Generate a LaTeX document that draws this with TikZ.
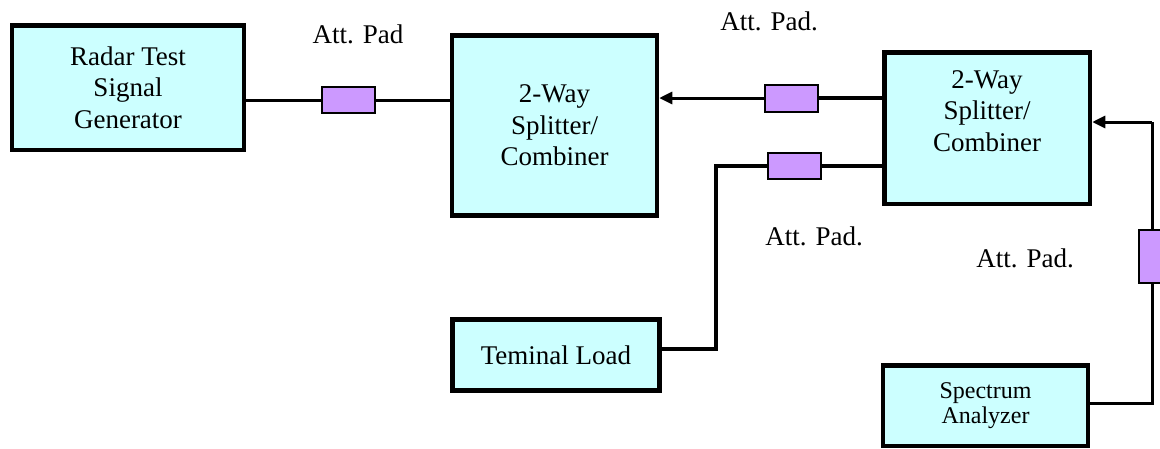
\documentclass[tikz,border=0pt]{standalone}
\usepackage{fontspec}
\setmainfont{Liberation Serif}
\newfontfamily\diagfont{Liberation Serif}
\usetikzlibrary{arrows.meta,calc}
\definecolor{boxfill}{HTML}{CCFFFF}
\definecolor{padfill}{HTML}{CC99FF}
\tikzset{
  blockbox/.style={draw=black,fill=boxfill,line width=4.5pt,inner sep=0pt,align=center,font=\diagfont\fontsize{27}{31.5}\selectfont},
  padbox/.style={draw=black,fill=padfill,line width=2.2pt,inner sep=0pt},
  wire/.style={draw=black,line width=3pt},
  thickwire/.style={draw=black,line width=4pt},
  lbl/.style={anchor=base,inner sep=0pt,font=\diagfont\fontsize{27}{31.5}\selectfont},
  tip/.style={-{Triangle[length=13pt,width=12pt]}}
}
\begin{document}
\begin{tikzpicture}[x=1pt,y=-1pt]
\useasboundingbox (0,0) rectangle (1160,448);
% blocks
\node[blockbox,minimum width=232pt,minimum height=124.5pt] (radar) at (128,87.75) {Radar Test\\Signal\\Generator};
\node[blockbox,minimum width=205pt,minimum height=180pt] (split1) at (554.5,125.5) {2-Way\\Splitter/\\Combiner};
\node[blockbox,minimum width=205.5pt,minimum height=151.5pt] (split2) at (987.25,128.25) {};
\node[lbl,anchor=center,align=center] (split2txt) at (987,111) {2-Way\\Splitter/\\Combiner};
\node[blockbox,minimum width=207pt,minimum height=71pt] (term) at (556,355) {Teminal Load};
\node[blockbox,minimum width=205pt,minimum height=80.5pt,font=\diagfont\fontsize{24}{25}\selectfont] (spec) at (985.5,405.75) {Spectrum\\Analyzer};
% coordinates
\coordinate (t1) at (716,166);
\coordinate (t2) at (716,349);
\coordinate (s1) at (1152,403);
\coordinate (s2) at (1152,122);
% wires
\draw[wire] (radar.east |- 0,100) -- (split1.west |- 0,100);
\draw[thickwire] (split2.west |- 0,98) -- (791.5,98);
\draw[wire,tip] (791.5,98) -- (split1.east |- 0,98);
\draw[thickwire] (split2.west |- t1) -- (t1) -- (t2) -- (term.east |- t2);
\draw[wire] (spec.east |- s1) -- (s1) -- (s2);
\draw[wire,tip] (s2) -- (split2.east |- s2);
% pads
\node[padbox,minimum width=53pt,minimum height=26pt] (pad1) at (348.5,100) {};
\node[padbox,minimum width=53pt,minimum height=27pt] (pad2) at (791.5,98.5) {};
\node[padbox,minimum width=53pt,minimum height=26pt] (pad3) at (794.5,166) {};
\node[padbox,minimum width=26pt,minimum height=53pt] (pad4) at (1152,256.5) {};
% labels
\node[lbl] (l1) at (358,43) {Att. Pad};
\node[lbl] (l2) at (769,30) {Att. Pad.};
\node[lbl] (l3) at (814,245) {Att. Pad.};
\node[lbl] (l4) at (1025,267) {Att. Pad.};
\end{tikzpicture}
\end{document}
